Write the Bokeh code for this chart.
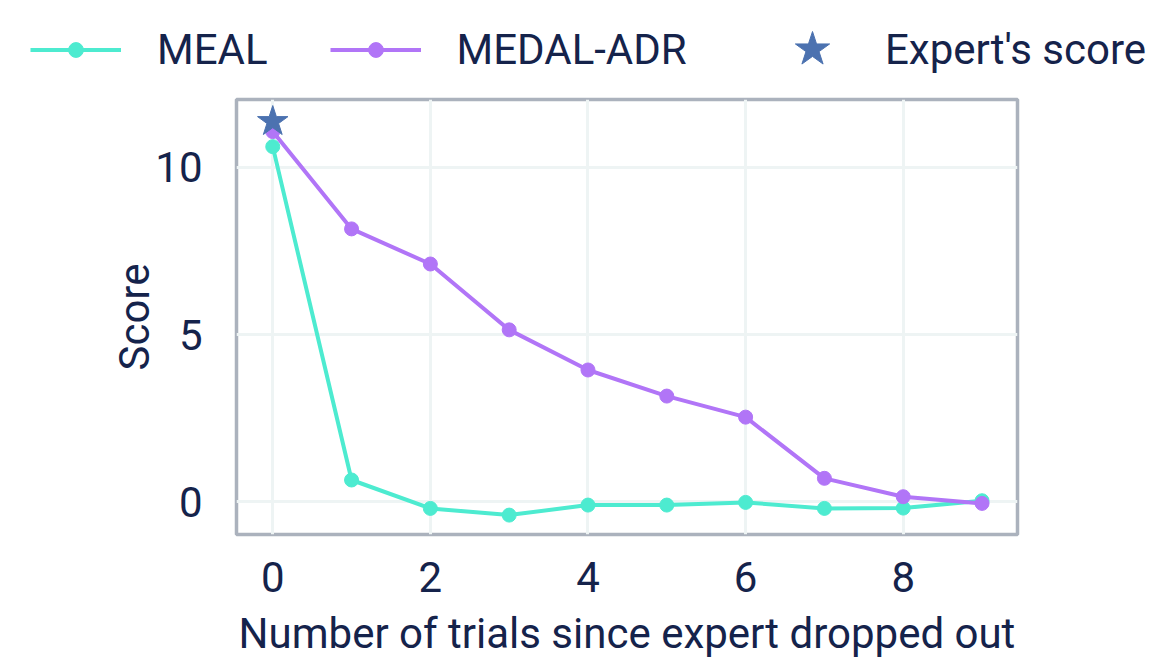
from bokeh.plotting import figure
from bokeh.models import Legend, LegendItem, Range1d
from bokeh.embed import file_html
from bokeh.resources import INLINE

trials = list(range(10))
meal = [10.62, 0.65, -0.2, -0.4, -0.1, -0.1, -0.02, -0.2, -0.19, 0.03]
medal_adr = [11.07, 8.16, 7.11, 5.14, 3.94, 3.16, 2.53, 0.7, 0.15, -0.05]
expert_x = [0]
expert_y = [11.37]
x_ticks = [0, 2, 4, 6, 8]
y_ticks = [0, 5, 10]

TEXT = "#15234B"
FONT = "Roboto"
FS = "42px"
c_meal = "#4DEBD0"
c_medal = "#B175F7"
c_star = "#4C72B0"


def draw(fig, visible=True):
    l1 = fig.line(trials, meal, line_color=c_meal, line_width=4, visible=visible)
    s1 = fig.scatter(trials, meal, size=14, fill_color=c_meal, line_color=c_meal, visible=visible)
    l2 = fig.line(trials, medal_adr, line_color=c_medal, line_width=4, visible=visible)
    s2 = fig.scatter(trials, medal_adr, size=14, fill_color=c_medal, line_color=c_medal, visible=visible)
    st = fig.scatter(expert_x, expert_y, marker="star", size=32, fill_color=c_star,
                     line_color=c_star, visible=visible)
    return l1, s1, l2, s2, st


# ---- legend strip ----
lf = figure(width=1150, height=95, min_border=0, x_axis_location=None, y_axis_location=None,
            x_range=Range1d(-0.46, 9.45), y_range=Range1d(-0.98, 12.03),
            output_backend="svg", toolbar_location=None)
lf.outline_line_color = None
lf.grid.visible = False
lf.background_fill_color = "white"
lf.border_fill_color = "white"
l1, s1, l2, s2, st = draw(lf, visible=False)

common = dict(orientation="horizontal", padding=0, margin=0, border_line_color=None,
              background_fill_alpha=0, label_text_font=FONT, label_text_font_size=FS,
              label_text_color=TEXT)
leg1 = Legend(items=[LegendItem(label="MEAL", renderers=[l1, s1]),
                     LegendItem(label="MEDAL-ADR", renderers=[l2, s2])],
              location=(30, 21), glyph_width=91, glyph_height=37, label_standoff=36,
              spacing=62, **common)
leg2 = Legend(items=[LegendItem(label="Expert's score", renderers=[st])],
              location=(767, 1), glyph_width=90, glyph_height=90, label_standoff=28,
              **common)
lf.add_layout(leg1, "center")
lf.add_layout(leg2, "center")

# ---- main plot ----
p = figure(frame_width=781, frame_height=435,
           min_border_left=236, min_border_top=4, min_border_right=133, min_border_bottom=130,
           x_range=Range1d(-0.46, 9.45), y_range=Range1d(-0.98, 12.03),
           output_backend="svg", toolbar_location=None)

p.background_fill_color = "white"
p.border_fill_color = "white"
p.outline_line_color = "#ABB2BD"
p.outline_line_width = 3.5

p.grid.grid_line_color = "#EEF4F4"
p.grid.grid_line_width = 3

p.xaxis.ticker = x_ticks
p.yaxis.ticker = y_ticks
p.axis.axis_line_color = None
p.axis.major_tick_line_color = None
p.axis.minor_tick_line_color = None
p.axis.major_tick_out = 0
p.axis.major_label_text_font = FONT
p.axis.major_label_text_font_size = FS
p.axis.major_label_text_color = TEXT
p.axis.axis_label_text_font = FONT
p.axis.axis_label_text_font_size = FS
p.axis.axis_label_text_color = TEXT
p.axis.axis_label_text_font_style = "normal"
p.xaxis.axis_label = "Number of trials since expert dropped out"
p.yaxis.axis_label = "Score"
p.xaxis.major_label_standoff = 27
p.yaxis.major_label_standoff = 34
p.xaxis.axis_label_standoff = 14
p.yaxis.axis_label_standoff = -7

draw(p)

open("out.html", "w").write(file_html([lf, p], INLINE))
